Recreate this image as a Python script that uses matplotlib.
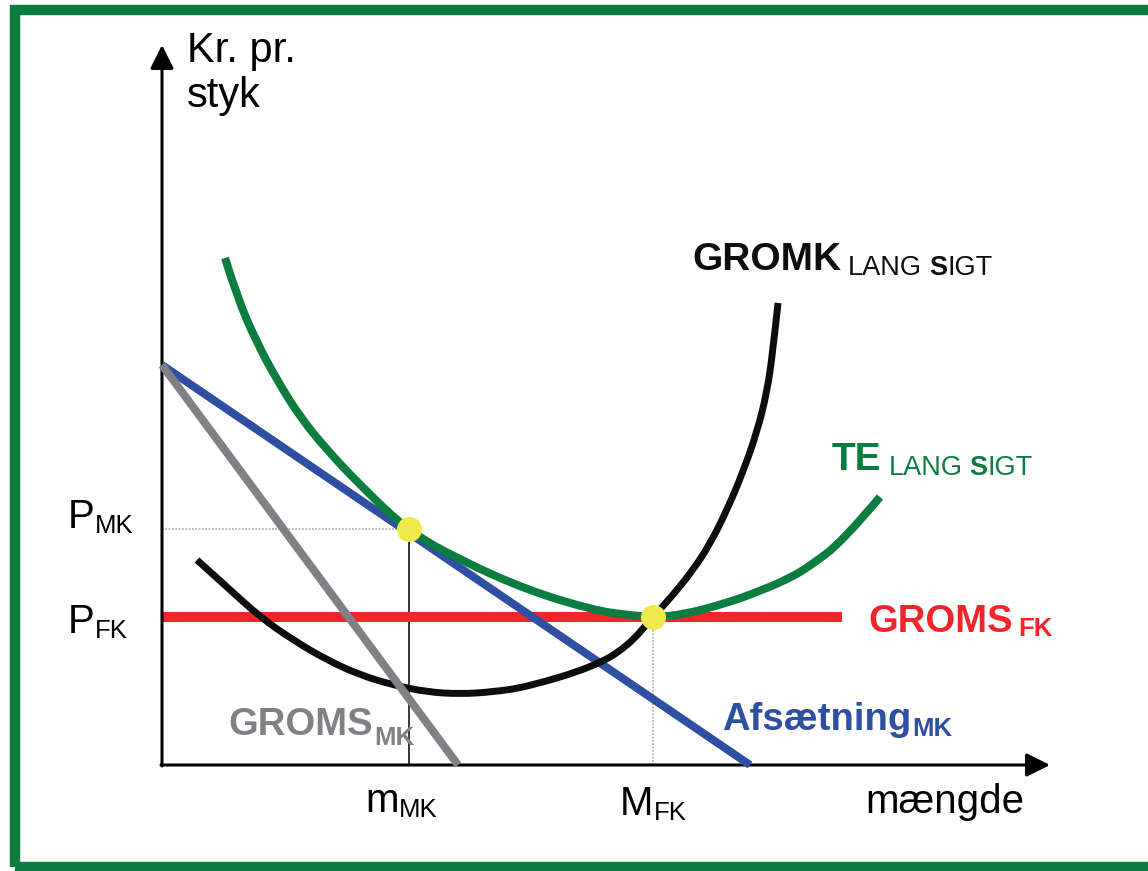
import matplotlib
matplotlib.use("Agg")
import matplotlib.pyplot as plt
import matplotlib.patches as mpatches
from matplotlib.path import Path

plt.rcParams["font.family"] = ["Liberation Sans", "DejaVu Sans"]

# --- data (quantity, price per unit) ---
te_q = [0.63, 0.75, 0.95, 1.15, 1.38, 1.65, 1.98, 2.46, 2.98, 3.65, 4.31, 4.65, 4.91,
        5.20, 5.65, 5.98, 6.28, 6.48, 6.81, 7.18]
te_p = [5.07, 4.68, 4.22, 3.85, 3.48, 3.15, 2.80, 2.34, 2.05, 1.75, 1.55, 1.50, 1.48,
        1.50, 1.62, 1.74, 1.87, 1.99, 2.24, 2.68]

gromk_q = [0.35, 0.65, 0.98, 1.31, 1.65, 1.98, 2.31, 2.65, 2.98, 3.30, 3.65, 4.31, 4.65,
           4.91, 5.11, 5.31, 5.48, 5.65, 5.81, 5.95, 6.05, 6.11, 6.16]
gromk_p = [2.05, 1.78, 1.48, 1.25, 1.05, 0.90, 0.80, 0.73, 0.71, 0.73, 0.78, 0.98, 1.18,
           1.48, 1.70, 1.95, 2.21, 2.55, 2.93, 3.33, 3.73, 4.15, 4.62]

afs_q = [0.0, 5.88]
afs_p = [4.0, 0.0]

groms_mk_q = [0.0, 2.96]
groms_mk_p = [4.0, 0.0]

groms_fk_q = [0.0, 6.80]
groms_fk_p = [1.48, 1.48]

p_mk, m_mk = 2.36, 2.47
p_fk, m_fk = 1.48, 4.91

GREEN = "#0c7c41"
BLUE = "#2f4fa2"
RED = "#f2252b"
GRAY = "#808184"
YELLOW = "#eeea4a"
BLACK = "#0d0d0d"

fig = plt.figure(figsize=(11.48, 8.71), dpi=100)
ax = fig.add_axes([0, 0, 1, 1])
ax.set_xlim(-1.62, 9.86)
ax.set_ylim(-1.06, 7.65)
ax.axis("off")

# green frame (open on the right, like the cropped original)
frame = mpatches.Rectangle((15 / 1148, 4 / 871), 1.2, 857 / 871, transform=fig.transFigure,
                           fill=False, edgecolor=GREEN, linewidth=7.5, clip_on=False)
fig.patches.append(frame)

# axes with arrows
arrow = dict(arrowstyle="-|>", color="black", lw=2.2, mutation_scale=36,
             shrinkA=0, shrinkB=0)
ax.annotate("", xy=(0, 7.20), xytext=(0, -0.01), arrowprops=arrow)
ax.annotate("", xy=(8.88, 0), xytext=(-0.01, 0), arrowprops=arrow)

# guide lines
ax.plot([0, m_mk], [p_mk, p_mk], color="#aaaaaa", lw=1.2, ls=(0, (1, 1)), zorder=1)
ax.plot([m_fk, m_fk], [0, p_fk], color="#aaaaaa", lw=1.2, ls=(0, (1, 1)), zorder=1)
ax.plot([m_mk, m_mk], [0, p_mk], color="black", lw=1.1, zorder=1)


def smooth_curve(qs, ps, color, width, z):
    # quadratic bezier path through the read points (drawn by matplotlib's path renderer)
    pts = list(zip(qs, ps))
    verts = [pts[0]]
    codes = [Path.MOVETO]
    for i in range(1, len(pts) - 1):
        nxt = pts[i + 1] if i == len(pts) - 2 else (
            (pts[i][0] + pts[i + 1][0]) / 2, (pts[i][1] + pts[i + 1][1]) / 2)
        verts += [pts[i], nxt]
        codes += [Path.CURVE3, Path.CURVE3]
    patch = mpatches.PathPatch(Path(verts, codes), fill=False, edgecolor=color,
                               linewidth=width, capstyle="butt", joinstyle="round",
                               zorder=z)
    ax.add_patch(patch)


# curves
lw = dict(solid_capstyle="butt", solid_joinstyle="round")
ax.plot(groms_fk_q, groms_fk_p, color=RED, lw=7.2, zorder=2, **lw)
ax.plot(afs_q, afs_p, color=BLUE, lw=5.8, zorder=3, **lw)
smooth_curve(te_q, te_p, GREEN, 5.8, 4)
smooth_curve(gromk_q, gromk_p, BLACK, 5.0, 5)
ax.plot(groms_mk_q, groms_mk_p, color=GRAY, lw=5.8, zorder=6, **lw)

# equilibrium points
ax.plot([m_mk, m_fk], [p_mk, p_fk], "o", color=YELLOW, markersize=17, zorder=7)


def label(x, y, main, sub_parts, color, weight="normal", gap=0.0, drop=1.5,
          size=29, sub_size=18.5):
    t = ax.text(x, y, main, color=color, fontsize=size, fontweight=weight,
                ha="left", va="baseline", zorder=8)
    prev = t
    first = True
    for txt, w, extra in sub_parts:
        dx = (gap if first else 0.0) + extra
        prev = ax.annotate(txt, xy=(1, 0), xycoords=prev, xytext=(dx, -drop if first else 0),
                           textcoords="offset points", ha="left", va="bottom",
                           color=color, fontsize=sub_size, fontweight=w, zorder=8)
        first = False
    return t


ax.text(0.25, 7.03, "Kr. pr.", fontsize=30, ha="left", va="baseline")
ax.text(0.25, 6.58, "styk", fontsize=30, ha="left", va="baseline")

label(-0.94, 2.37, "P", [("MK", "normal", 0)], "black")
label(-0.94, 1.32, "P", [("FK", "normal", 0)], "black")
label(2.03, -0.47, "m", [("MK", "normal", 0)], "black")
label(4.58, -0.50, "M", [("FK", "normal", 0)], "black")
ax.text(7.03, -0.48, "mængde", fontsize=29, ha="left", va="baseline")

sigt = [("LANG", "normal", 0), ("S", "bold", 5.0), ("IGT", "normal", 0)]
label(5.30, 4.95, "GROMK", sigt, BLACK, weight="bold", gap=5, drop=2,
      size=28, sub_size=19.5)
label(6.70, 2.95, "TE", sigt, GREEN, weight="bold", gap=5, drop=2,
      size=28, sub_size=19.5)
label(7.06, 1.33, "GROMS", [("FK", "bold", 0)], RED, weight="bold", gap=4, drop=0.5,
      size=27.5)
label(5.60, 0.35, "Afsætning", [("MK", "bold", 0)], BLUE, weight="bold", gap=1, drop=2,
      size=27.5)
label(0.66, 0.30, "GROMS", [("MK", "bold", 0)], GRAY, weight="bold", gap=1, drop=5,
      size=27.5)

fig.savefig("out.png", dpi=100, facecolor="white")
